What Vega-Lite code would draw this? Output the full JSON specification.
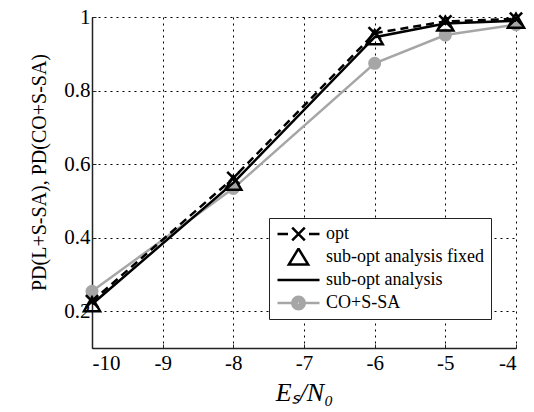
{
  "$schema": "https://vega.github.io/schema/vega-lite/v6.json",
  "width": 424,
  "height": 331,
  "autosize": "none",
  "padding": {"left": 92, "top": 17, "right": 18, "bottom": 64},
  "background": "white",
  "config": {
    "view": {"stroke": null},
    "font": "Liberation Serif, serif",
    "axis": {
      "labelFont": "Liberation Serif, serif",
      "labelFontSize": 21,
      "labelColor": "black",
      "titleFont": "Liberation Serif, serif",
      "titleColor": "black",
      "titleFontWeight": "normal",
      "domainColor": "#222",
      "domainWidth": 1.5,
      "ticks": true,
      "tickSize": -4,
      "tickColor": "#222",
      "tickWidth": 1,
      "gridColor": "black",
      "gridDash": [2, 4],
      "gridWidth": 1,
      "gridOpacity": 1
    }
  },
  "data": {
    "values": [
      {"x": -10, "y": 0.227, "series": "opt"},
      {"x": -8, "y": 0.562, "series": "opt"},
      {"x": -6, "y": 0.956, "series": "opt"},
      {"x": -5, "y": 0.988, "series": "opt"},
      {"x": -4, "y": 0.995, "series": "opt"},
      {"x": -10, "y": 0.219, "series": "sub-opt analysis fixed"},
      {"x": -8, "y": 0.549, "series": "sub-opt analysis fixed"},
      {"x": -6, "y": 0.945, "series": "sub-opt analysis fixed"},
      {"x": -5, "y": 0.982, "series": "sub-opt analysis fixed"},
      {"x": -4, "y": 0.99, "series": "sub-opt analysis fixed"},
      {"x": -10, "y": 0.219, "series": "sub-opt analysis"},
      {"x": -8, "y": 0.549, "series": "sub-opt analysis"},
      {"x": -6, "y": 0.945, "series": "sub-opt analysis"},
      {"x": -5, "y": 0.982, "series": "sub-opt analysis"},
      {"x": -4, "y": 0.99, "series": "sub-opt analysis"},
      {"x": -10, "y": 0.254, "series": "CO+S-SA"},
      {"x": -8, "y": 0.534, "series": "CO+S-SA"},
      {"x": -6, "y": 0.874, "series": "CO+S-SA"},
      {"x": -5, "y": 0.951, "series": "CO+S-SA"},
      {"x": -4, "y": 0.979, "series": "CO+S-SA"}
    ]
  },
  "encoding": {
    "x": {
      "field": "x", "type": "quantitative",
      "scale": {"domain": [-10, -4], "nice": false, "zero": false},
      "axis": {
        "values": [-10, -9, -8, -7, -6, -5, -4],
        "labelExpr": "'' + datum.value",
        "labelPadding": 8,
        "title": "Eₛ/N₀",
        "titleFontSize": 26,
        "titleFontStyle": "italic",
        "titlePadding": 6
      }
    },
    "y": {
      "field": "y", "type": "quantitative",
      "scale": {"domain": [0.1, 1], "nice": false, "zero": false},
      "axis": {
        "values": [0.2, 0.4, 0.6, 0.8, 1],
        "format": ".1~f",
        "labelPadding": 6,
        "title": "PD(L+S-SA), PD(CO+S-SA)",
        "titleFontSize": 20,
        "titlePadding": 14,
        "titleY": 155
      }
    }
  },
  "layer": [
    {
      "transform": [{"filter": "datum.series === 'CO+S-SA'"}],
      "mark": {"type": "line", "stroke": "#a6a6a6", "strokeWidth": 2.5}
    },
    {
      "transform": [{"filter": "datum.series === 'CO+S-SA'"}],
      "mark": {"type": "point", "shape": "circle", "filled": true, "fill": "#a6a6a6", "opacity": 1, "size": 170}
    },
    {
      "transform": [{"filter": "datum.series === 'sub-opt analysis'"}],
      "mark": {"type": "line", "stroke": "black", "strokeWidth": 2.5}
    },
    {
      "transform": [{"filter": "datum.series === 'opt'"}],
      "mark": {"type": "line", "stroke": "black", "strokeWidth": 2.5, "strokeDash": [8, 5]}
    },
    {
      "transform": [{"filter": "datum.series === 'opt'"}],
      "mark": {"type": "point", "shape": "M-1,-1L1,1M-1,1L1,-1", "filled": false, "stroke": "black", "strokeWidth": 2.5, "opacity": 1, "size": 150}
    },
    {
      "transform": [{"filter": "datum.series === 'sub-opt analysis fixed'"}],
      "mark": {"type": "point", "shape": "triangle-up", "filled": false, "stroke": "black", "strokeWidth": 2.5, "opacity": 1, "size": 260}
    },
    {
      "mark": {"type": "point", "opacity": 0, "size": 1764, "strokeWidth": 2.5, "filled": false},
      "encoding": {
        "shape": {
          "field": "series", "type": "nominal",
          "scale": {
            "domain": ["opt", "sub-opt analysis fixed", "sub-opt analysis", "CO+S-SA"],
            "range": [
              "M-1,0H-0.5M0.5,0H1M-0.3,-0.3L0.3,0.3M-0.3,0.3L0.3,-0.3",
              "M0,-0.4L0.46,0.36L-0.46,0.36Z",
              "M-1,0H1",
              "M-1,0H-0.3M0.3,0H1M0.3,0A0.3,0.3 0 1,1 -0.3,0A0.3,0.3 0 1,1 0.3,0ZM0.2,0A0.2,0.2 0 1,1 -0.2,0A0.2,0.2 0 1,1 0.2,0ZM0.1,0A0.1,0.1 0 1,1 -0.1,0A0.1,0.1 0 1,1 0.1,0ZM0.03,0A0.03,0.03 0 1,1 -0.03,0A0.03,0.03 0 1,1 0.03,0Z"
            ]
          },
          "legend": {
            "title": null,
            "orient": "none",
            "legendX": 177,
            "legendY": 201,
            "strokeColor": "#222",
            "fillColor": "white",
            "padding": 7,
            "labelFont": "Liberation Serif, serif",
            "labelFontSize": 18,
            "labelColor": "black",
            "labelOffset": 5,
            "rowPadding": 5,
            "clipHeight": 18,
            "symbolSize": 1764,
            "symbolStrokeWidth": 2.5,
            "encode": {
              "symbols": {"update": {"opacity": {"value": 1}, "fill": {"value": "transparent"}}}
            }
          }
        },
        "stroke": {
          "field": "series", "type": "nominal",
          "scale": {
            "domain": ["opt", "sub-opt analysis fixed", "sub-opt analysis", "CO+S-SA"],
            "range": ["black", "black", "black", "#a6a6a6"]
          },
          "legend": {"title": null}
        }
      }
    }
  ]
}
